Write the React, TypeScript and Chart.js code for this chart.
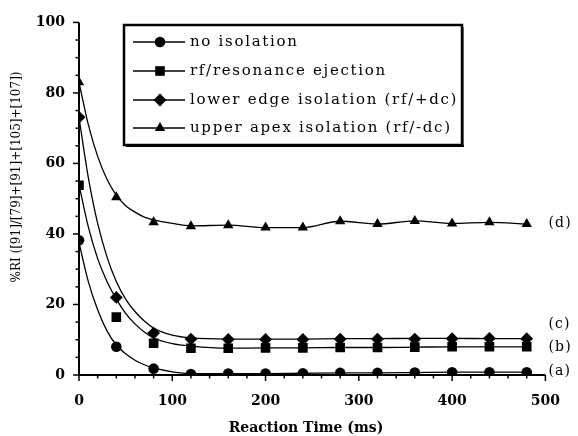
import React, { useEffect, useRef } from 'react';
import { Chart, registerables } from 'chart.js';

Chart.register(...registerables);

// ---- data ----
const MARKER_TIMES = [0, 40, 80, 120, 160, 200, 240, 280, 320, 360, 400, 440, 480];
const NO_ISOLATION = [38.2, 8.0, 1.8, 0.3, 0.4, 0.4, 0.5, 0.6, 0.6, 0.7, 0.8, 0.8, 0.8];
const RF_RESONANCE = [53.8, 16.4, 9.0, 7.6, 7.6, 7.7, 7.7, 7.8, 7.8, 7.9, 8.0, 8.0, 8.0];
const LOWER_EDGE = [73.1, 22.0, 11.9, 10.2, 10.1, 10.1, 10.1, 10.2, 10.2, 10.2, 10.3, 10.4, 10.3];
const UPPER_APEX = [83.0, 50.4, 43.3, 42.2, 42.5, 41.8, 41.8, 43.6, 42.8, 43.7, 43.0, 43.3, 42.8];

// fitted curves
const FIT_TIMES = [0, 10, 20, 30, 40, 50, 60, 70, 80, 100, 120, 160, 200, 240, 280, 320, 360, 400, 440, 480];
const NO_ISOLATION_FIT = [37.5, 26.5, 18.5, 12.5, 8.5, 6.0, 4.2, 2.9, 2.0, 0.9, 0.4, 0.4, 0.4, 0.5, 0.6, 0.6, 0.7, 0.8, 0.8, 0.8];
const RF_RESONANCE_FIT = [54.0, 42.0, 33.0, 26.5, 21.5, 17.5, 14.5, 12.2, 10.5, 8.9, 8.2, 7.6, 7.7, 7.7, 7.8, 7.8, 7.9, 8.0, 8.0, 8.0];
const LOWER_EDGE_FIT = [73.0, 56.0, 43.0, 33.5, 26.5, 21.5, 18.0, 15.3, 13.3, 11.3, 10.5, 10.2, 10.2, 10.2, 10.3, 10.3, 10.4, 10.4, 10.3, 10.3];
const UPPER_APEX_FIT = [83.0, 71.0, 62.0, 55.5, 51.0, 48.0, 46.2, 44.8, 44.0, 43.0, 42.3, 42.5, 41.8, 41.8, 43.6, 42.8, 43.7, 43.0, 43.3, 42.8];

const LEGEND_LABELS = [
  'no isolation',
  'rf/resonance ejection',
  'lower edge isolation (rf/+dc)',
  'upper apex isolation (rf/-dc)',
];
const POINT_STYLES = ['circle', 'rect', 'rectRot', 'triangle'];
const POINT_RADII = [5.3, 6.8, 6.4, 6.0];
const CURVE_TAGS = ['(a)', '(b)', '(c)', '(d)'];
const CURVE_TAG_VALUES = [0.9, 7.9, 14.4, 43.0];

const X_TITLE = 'Reaction Time (ms)';
const Y_TITLE = '%RI ([91]/[79]+[91]+[105]+[107])';

const pts = (xs: number[], ys: number[]) => xs.map((x, i) => ({ x, y: ys[i] }));

function drawMarker(ctx: CanvasRenderingContext2D, style: string, x: number, y: number, r: number) {
  ctx.beginPath();
  if (style === 'circle') {
    ctx.arc(x, y, r, 0, Math.PI * 2);
  } else if (style === 'rect') {
    const s = r * Math.SQRT1_2;
    ctx.rect(x - s, y - s, 2 * s, 2 * s);
  } else if (style === 'rectRot') {
    ctx.moveTo(x, y - r);
    ctx.lineTo(x + r, y);
    ctx.lineTo(x, y + r);
    ctx.lineTo(x - r, y);
    ctx.closePath();
  } else {
    ctx.moveTo(x, y - r);
    ctx.lineTo(x + r * 0.866, y + r * 0.5);
    ctx.lineTo(x - r * 0.866, y + r * 0.5);
    ctx.closePath();
  }
  ctx.fill();
}

const decor = {
  id: 'decor',
  afterDraw(chart: any) {
    const ctx = chart.ctx as CanvasRenderingContext2D;
    const xs = chart.scales.x;
    const ys = chart.scales.y;
    const x0 = xs.getPixelForValue(0);
    const x1 = xs.getPixelForValue(500);
    const y0 = ys.getPixelForValue(0);
    const y1 = ys.getPixelForValue(100);
    ctx.save();
    ctx.strokeStyle = '#000';
    ctx.fillStyle = '#000';
    // axes
    ctx.lineWidth = 2;
    ctx.beginPath();
    ctx.moveTo(x0, y1);
    ctx.lineTo(x0, y0);
    ctx.lineTo(x1, y0);
    ctx.stroke();
    ctx.lineWidth = 1.5;
    for (let v = 0; v <= 100; v += 5) {
      const y = ys.getPixelForValue(v);
      const len = v % 20 === 0 ? 6 : 3.5;
      ctx.beginPath();
      ctx.moveTo(x0, y);
      ctx.lineTo(x0 - len, y);
      ctx.stroke();
    }
    for (let t = 0; t <= 500; t += 20) {
      const x = xs.getPixelForValue(t);
      const len = t % 100 === 0 ? 6 : 3.5;
      ctx.beginPath();
      ctx.moveTo(x, y0);
      ctx.lineTo(x, y0 + len);
      ctx.stroke();
    }
    // axis titles
    ctx.font = 'bold 14px "DejaVu Serif"';
    ctx.textAlign = 'center';
    ctx.textBaseline = 'middle';
    ctx.fillText(X_TITLE, 306, 428);
    ctx.save();
    ctx.translate(17, 177);
    ctx.rotate(-Math.PI / 2);
    ctx.font = '12px "DejaVu Serif"';
    ctx.fillText(Y_TITLE, 0, 0);
    ctx.restore();
    // curve tags
    ctx.font = '14px "DejaVu Serif"';
    ctx.textAlign = 'left';
    (ctx as any).letterSpacing = '1.2px';
    CURVE_TAGS.forEach((tag, i) => {
      ctx.fillText(tag, x1 + 3, ys.getPixelForValue(CURVE_TAG_VALUES[i]));
    });
    (ctx as any).letterSpacing = '0px';
    // legend box
    const L = 124, T = 25, R = 462, B = 145;
    ctx.fillStyle = '#fff';
    ctx.fillRect(L, T, R - L, B - T);
    ctx.fillStyle = '#000';
    ctx.lineWidth = 2.5;
    ctx.strokeRect(L, T, R - L, B - T);
    ctx.fillRect(L + 2, B, R - L, 2);
    ctx.fillRect(R, T + 2, 1.5, B - T);
    const rowY = [42, 71, 100, 128];
    LEGEND_LABELS.forEach((label, i) => {
      const y = rowY[i];
      ctx.lineWidth = 1.3;
      ctx.beginPath();
      ctx.moveTo(133, y);
      ctx.lineTo(185, y);
      ctx.stroke();
      drawMarker(ctx, POINT_STYLES[i], 160, y, POINT_RADII[i]);
      ctx.font = '15px "DejaVu Serif"';
      (ctx as any).letterSpacing = '1.7px';
      ctx.textAlign = 'left';
      ctx.textBaseline = 'middle';
      ctx.fillText(label, 190, y);
      (ctx as any).letterSpacing = '0px';
    });
    ctx.restore();
  },
};

export default function App() {
  const ref = useRef<HTMLCanvasElement | null>(null);
  useEffect(() => {
    document.body.style.margin = '0';
    const canvas = ref.current;
    if (!canvas) return;
    const markerSets = [NO_ISOLATION, RF_RESONANCE, LOWER_EDGE, UPPER_APEX];
    const fitSets = [NO_ISOLATION_FIT, RF_RESONANCE_FIT, LOWER_EDGE_FIT, UPPER_APEX_FIT];
    const datasets: any[] = [];
    fitSets.forEach((vals, i) => {
      datasets.push({
        label: LEGEND_LABELS[i] + ' fit',
        data: pts(FIT_TIMES, vals),
        borderColor: '#000',
        borderWidth: 1.3,
        pointRadius: 0,
        fill: false,
        showLine: true,
        cubicInterpolationMode: 'monotone',
      });
    });
    markerSets.forEach((vals, i) => {
      datasets.push({
        label: LEGEND_LABELS[i],
        data: pts(MARKER_TIMES, vals),
        showLine: false,
        pointStyle: POINT_STYLES[i],
        pointRadius: POINT_RADII[i],
        pointBackgroundColor: '#000',
        pointBorderColor: '#000',
        pointBorderWidth: 0,
      });
    });
    const tickFont = { family: 'DejaVu Serif', size: 14, weight: 'bold' as const };
    const chart = new Chart(canvas, {
      type: 'scatter',
      data: { datasets },
      options: {
        animation: false,
        responsive: false,
        maintainAspectRatio: false,
        layout: { padding: { left: 0, right: 32, top: 22, bottom: 0 } },
        plugins: { legend: { display: false }, tooltip: { enabled: false } },
        scales: {
          x: {
            type: 'linear',
            min: 0,
            max: 500,
            afterFit: (s: any) => { s.height = 61; },
            grid: { display: false, drawTicks: false },
            border: { display: false },
            ticks: { stepSize: 100, padding: 18, font: tickFont, color: '#000', maxRotation: 0, autoSkip: false },
          },
          y: {
            type: 'linear',
            min: 0,
            max: 100,
            afterFit: (s: any) => { s.width = 79; },
            grid: { display: false, drawTicks: false },
            border: { display: false },
            ticks: { stepSize: 20, padding: 14, font: tickFont, color: '#000' },
          },
        },
      },
      plugins: [decor],
    });
    return () => chart.destroy();
  }, []);
  return <canvas ref={ref} width={578} height={436} style={{ display: 'block' }} />;
}
